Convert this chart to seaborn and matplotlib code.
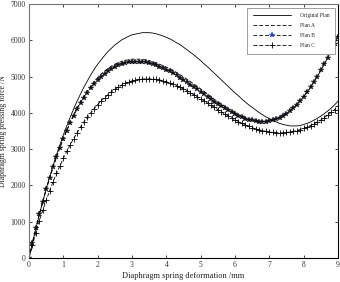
import numpy as np
import matplotlib
matplotlib.use("Agg")
import matplotlib.pyplot as plt
import seaborn as sns
import pandas as pd

# deformation (mm), sampled every 0.1 mm
deformation = [round(i * 0.1, 1) for i in range(91)]

original_plan = [0, 410, 810, 1190, 1550, 1900, 2230, 2540, 2840, 3120, 3390, 3640, 3880, 4110, 4320,
                 4520, 4710, 4880, 5050, 5200, 5340, 5460, 5580, 5690, 5780, 5870, 5940, 6010, 6060, 6110,
                 6150, 6170, 6190, 6210, 6210, 6210, 6200, 6180, 6150, 6120, 6080, 6040, 5990, 5930, 5880,
                 5810, 5740, 5670, 5600, 5520, 5440, 5350, 5270, 5180, 5090, 5000, 4910, 4820, 4730, 4640,
                 4550, 4470, 4380, 4300, 4220, 4150, 4080, 4010, 3950, 3890, 3840, 3790, 3750, 3710, 3680,
                 3660, 3640, 3640, 3640, 3650, 3680, 3710, 3750, 3800, 3850, 3910, 3980, 4050, 4130, 4220,
                 4320]

plan_a = [0, 420, 820, 1200, 1550, 1890, 2200, 2500, 2780, 3050, 3290, 3530, 3740, 3950, 4130,
          4310, 4460, 4610, 4740, 4860, 4970, 5070, 5150, 5220, 5290, 5340, 5380, 5420, 5450, 5460,
          5480, 5480, 5480, 5470, 5460, 5440, 5410, 5380, 5340, 5300, 5260, 5220, 5170, 5110, 5050,
          4990, 4930, 4860, 4800, 4730, 4660, 4590, 4520, 4450, 4370, 4310, 4240, 4180, 4110, 4050,
          4000, 3950, 3910, 3870, 3830, 3810, 3790, 3770, 3770, 3770, 3770, 3800, 3830, 3870, 3920,
          3980, 4050, 4140, 4230, 4330, 4440, 4570, 4700, 4850, 5000, 5170, 5340, 5520, 5710, 5900,
          6100]

plan_b = [0, 420, 820, 1200, 1550, 1890, 2200, 2500, 2780, 3040, 3280, 3510, 3720, 3920, 4100,
          4270, 4420, 4560, 4690, 4800, 4910, 5000, 5080, 5150, 5220, 5270, 5310, 5350, 5380, 5390,
          5410, 5410, 5410, 5400, 5390, 5370, 5340, 5310, 5270, 5230, 5190, 5140, 5090, 5030, 4970,
          4910, 4850, 4780, 4720, 4650, 4580, 4510, 4450, 4380, 4310, 4250, 4190, 4130, 4070, 4010,
          3960, 3920, 3880, 3840, 3810, 3790, 3770, 3760, 3760, 3760, 3770, 3800, 3830, 3870, 3920,
          3980, 4050, 4140, 4230, 4330, 4440, 4570, 4700, 4850, 5000, 5170, 5340, 5520, 5710, 5900,
          6100]

plan_c = [0, 360, 700, 1020, 1310, 1590, 1850, 2100, 2330, 2540, 2750, 2940, 3120, 3290, 3450,
          3610, 3750, 3880, 4000, 4120, 4230, 4330, 4420, 4500, 4580, 4650, 4710, 4760, 4810, 4850,
          4880, 4900, 4920, 4930, 4940, 4940, 4930, 4920, 4910, 4880, 4860, 4820, 4790, 4750, 4700,
          4660, 4610, 4550, 4500, 4440, 4390, 4330, 4270, 4210, 4150, 4090, 4030, 3970, 3920, 3860,
          3810, 3760, 3710, 3670, 3630, 3590, 3560, 3530, 3510, 3490, 3470, 3460, 3450, 3450, 3450,
          3460, 3470, 3490, 3510, 3540, 3570, 3600, 3650, 3690, 3750, 3800, 3870, 3940, 4010, 4090,
          4180]

series_labels = ["Original Plan", "Plan A", "Plan B", "Plan C"]
x_ticks = list(range(0, 10))
y_ticks = list(range(0, 7001, 1000))

sns.set_style("ticks")
plt.rcParams["font.family"] = ["Liberation Serif", "DejaVu Serif"]

fig = plt.figure(figsize=(3.4, 2.82), dpi=100)
ax = fig.add_axes([29 / 340, 1 - 258 / 282, (338 - 29) / 340, (258 - 4) / 282])

df = pd.DataFrame({"x": deformation, "O": original_plan, "A": plan_a,
                   "B": plan_b, "C": plan_c})

dash = (0, (4.5, 2.5))
sns.lineplot(data=df, x="x", y="O", ax=ax, color="black", lw=0.6,
             label=series_labels[0], sort=False, estimator=None)
sns.lineplot(data=df, x="x", y="A", ax=ax, color="black", lw=0.6, linestyle=dash,
             label=series_labels[1], sort=False, estimator=None)
sns.lineplot(data=df, x="x", y="B", ax=ax, color="black", lw=0.6, linestyle=dash,
             marker="*", markersize=4.2, markerfacecolor="#111122",
             markeredgecolor="#111111", markeredgewidth=0.3,
             label=series_labels[2], sort=False, estimator=None)
sns.lineplot(data=df, x="x", y="C", ax=ax, color="black", lw=0.6, linestyle=dash,
             marker="+", markersize=4.5, markeredgewidth=0.6,
             markeredgecolor="black", markerfacecolor="black",
             label=series_labels[3], sort=False, estimator=None)

ax.set_xlim(0, 9)
ax.set_ylim(0, 7000)
ax.set_xticks(x_ticks)
ax.set_yticks(y_ticks)
ax.tick_params(direction="in", length=2.5, width=0.5, labelsize=5.5, pad=2.5,
               top=True, right=True, colors="black", labelcolor="#333333")
for side, sp in ax.spines.items():
    sp.set_linewidth(0.8)
    sp.set_color("#777777" if side in ("left", "top") else "black")

ax.set_xlabel("Diaphragm spring deformation /mm", fontsize=6, labelpad=2, color="#222222")
ax.set_ylabel("Diaphragm spring pressing force /N", fontsize=5.6, labelpad=1.5, color="#222222")
ax.yaxis.set_label_coords(-0.07, 0.5)

leg = ax.legend(loc="upper right", bbox_to_anchor=(0.99, 0.985), fontsize=4,
                frameon=True, fancybox=False, framealpha=1, edgecolor="#777777",
                handlelength=7, handletextpad=1.5, labelspacing=0.9,
                borderpad=1.0, borderaxespad=0)
leg.get_frame().set_linewidth(0.5)
hb = leg.legend_handles[2]
hb.set_markerfacecolor("#2a3fd0")
hb.set_markeredgecolor("#2a3fd0")

fig.savefig("out.png", dpi=100)
